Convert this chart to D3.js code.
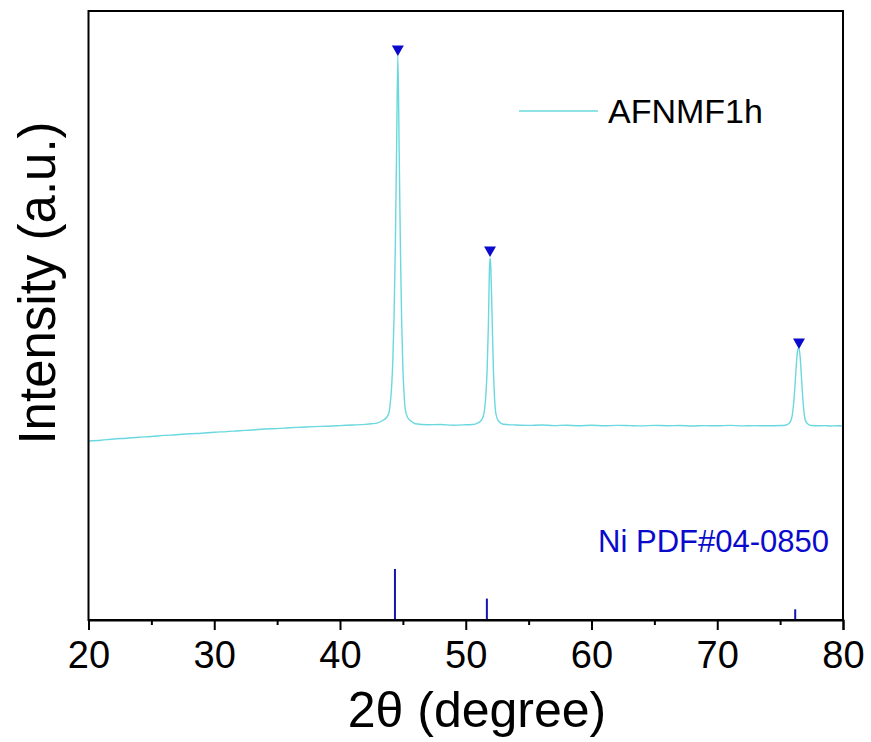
<!DOCTYPE html>
<html>
<head>
<meta charset="utf-8">
<script src="https://cdn.jsdelivr.net/npm/d3@7/dist/d3.min.js"></script>
<style>
  html, body { margin: 0; padding: 0; background: #fff; }
  svg { display: block; }
  text { font-family: "Liberation Sans", Arial, sans-serif; }
</style>
</head>
<body>
<div id="chart"></div>
<script>
// ---- data ----
const twoTheta = [
  20, 21, 22, 23, 24, 25, 26, 27, 28, 29, 30, 31, 32, 33, 34, 35, 36, 37, 38, 39, 40, 41, 42, 42.5,
  43.0, 43.4, 43.7, 43.9, 44.0, 44.1, 44.2, 44.3, 44.4, 44.5, 44.6, 44.7, 44.8, 44.9, 45.0, 45.1, 45.2, 45.4, 45.7,
  46, 47, 48, 49, 50, 50.5,
  50.8, 51.2, 51.4, 51.5, 51.6, 51.7, 51.8, 51.9, 51.95, 52.0, 52.1, 52.2, 52.3, 52.4, 52.6,
  53, 54, 55, 56, 57, 58, 59, 60, 61, 62, 63, 64, 65, 66, 67, 68, 69, 70, 71, 72, 73, 74, 75,
  75.4, 75.7, 75.9, 76.0, 76.1, 76.2, 76.3, 76.4, 76.5, 76.6, 76.7, 76.8, 76.9, 77.0, 77.2, 77.5,
  78, 78.5, 79, 79.5, 80
];
const intensity = [
  1790, 1798, 1810, 1818, 1828, 1835, 1846, 1852, 1862, 1868, 1878, 1884, 1893, 1900, 1910, 1914, 1922, 1928, 1934, 1938, 1944, 1950, 1956, 1962,
  1972, 1995, 2025, 2075, 2170, 2320, 2590, 3040, 3740, 4700, 5650, 4750, 3760, 3010, 2520, 2250, 2100, 2020, 1985,
  1962, 1952, 1955, 1948, 1952, 1955,
  1962, 1990, 2040, 2110, 2250, 2500, 2950, 3560, 3620, 3500, 3000, 2500, 2200, 2060, 1990,
  1958, 1950, 1946, 1950, 1944, 1948, 1943, 1947, 1942, 1946, 1944, 1941, 1946, 1943, 1945, 1940, 1944, 1942, 1946, 1941, 1944, 1942, 1945,
  1948, 1965, 2010, 2080, 2200, 2380, 2570, 2700, 2720, 2620, 2420, 2220, 2080, 2000, 1960, 1945,
  1942, 1944, 1940, 1942, 1940
];
const peakMarkers2Theta = [44.6, 51.93, 76.5];
const peakMarkersY = [5710, 3700, 2780];

const refName = "Ni PDF#04-0850";
const ref2Theta = [44.37, 51.68, 76.2];
const refIntensity = [100, 42, 21];

const seriesName = "AFNMF1h";
const xTicks = [20, 30, 40, 50, 60, 70, 80];
const xMinorTicks = [25, 35, 45, 55, 65, 75];
const xLabel = "2θ (degree)";
const yLabel = "Intensity (a.u.)";

// ---- layout ----
const W = 871, H = 742;
const m = { left: 88.5, right: 843, top: 11, bottom: 620 };

const svg = d3.select("#chart").append("svg")
  .attr("width", W).attr("height", H);

const x = d3.scaleLinear().domain([20, 80]).range([m.left, m.right]);
const y = d3.scaleLinear().domain([0, 6090]).range([m.bottom, m.top]);
const yRef = d3.scaleLinear().domain([0, 100]).range([m.bottom, m.bottom - 51]);

const curveColor = "#6ad8de";
const blue = "#0a0acc";

// reference sticks
svg.append("g").selectAll("line")
  .data(ref2Theta.map((t, i) => ({ t, v: refIntensity[i] })))
  .join("line")
  .attr("x1", d => x(d.t)).attr("x2", d => x(d.t))
  .attr("y1", yRef(0)).attr("y2", d => yRef(d.v))
  .attr("stroke", "#1414b4").attr("stroke-width", 2);

// curve
const pts = twoTheta.map((t, i) => [t, intensity[i]]);
svg.append("path")
  .datum(pts)
  .attr("fill", "none")
  .attr("stroke", curveColor)
  .attr("stroke-width", 1.4)
  .attr("stroke-linejoin", "round")
  .attr("d", d3.line().x(d => x(d[0])).y(d => y(d[1])).curve(d3.curveMonotoneX));

// peak markers (down triangles)
const tri = d3.symbol().type(d3.symbolTriangle).size(62);
svg.append("g").selectAll("path")
  .data(peakMarkers2Theta.map((t, i) => [t, peakMarkersY[i]]))
  .join("path")
  .attr("d", tri)
  .attr("transform", d => `translate(${x(d[0])},${y(d[1])}) rotate(180)`)
  .attr("fill", blue);

// frame
svg.append("rect")
  .attr("x", m.left).attr("y", m.top)
  .attr("width", m.right - m.left).attr("height", m.bottom - m.top)
  .attr("fill", "none").attr("stroke", "#000").attr("stroke-width", 2);

// bottom axis
const xAxis = d3.axisBottom(x).tickValues(xTicks).tickSize(10).tickPadding(11).tickFormat(d3.format("d"));
const gx = svg.append("g").attr("transform", `translate(0,${m.bottom})`).call(xAxis);
gx.select(".domain").attr("stroke-width", 2);
gx.selectAll(".tick line").attr("stroke-width", 2);
gx.selectAll(".tick text").attr("font-size", 38).attr("font-family", "Liberation Sans, Arial, sans-serif").attr("fill", "#000");

const xMinor = d3.axisBottom(x).tickValues(xMinorTicks).tickSize(5).tickFormat("");
const gxm = svg.append("g").attr("transform", `translate(0,${m.bottom})`).call(xMinor);
gxm.select(".domain").remove();
gxm.selectAll(".tick line").attr("stroke-width", 2);

// axis titles
svg.append("text")
  .attr("x", 477).attr("y", 727)
  .attr("text-anchor", "middle").attr("font-size", 50).attr("fill", "#000")
  .text(xLabel);

svg.append("text")
  .attr("transform", `translate(55,283) rotate(-90)`)
  .attr("text-anchor", "middle").attr("font-size", 51).attr("fill", "#000")
  .text(yLabel);

// legend
svg.append("line")
  .attr("x1", 519).attr("x2", 598).attr("y1", 111).attr("y2", 111)
  .attr("stroke", curveColor).attr("stroke-width", 1.6);
svg.append("text")
  .attr("x", 608).attr("y", 123)
  .attr("font-size", 34).attr("fill", "#000")
  .text(seriesName);

// reference label
svg.append("text")
  .attr("x", 829).attr("y", 552)
  .attr("text-anchor", "end").attr("font-size", 31).attr("fill", blue)
  .text(refName);
</script>
</body>
</html>
